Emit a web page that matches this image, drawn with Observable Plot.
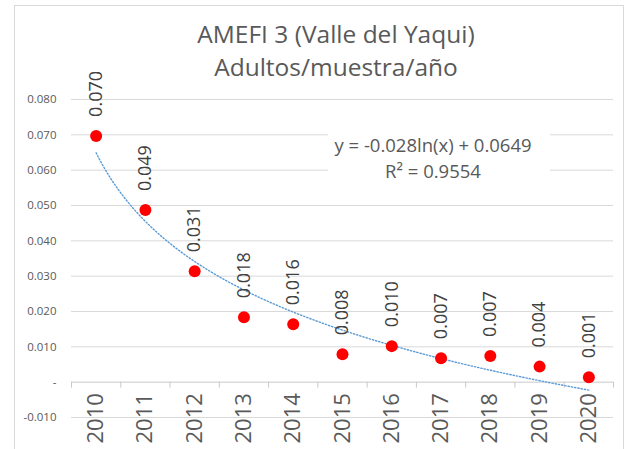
<!DOCTYPE html>
<html>
<head>
<meta charset="utf-8">
<script src="https://cdn.jsdelivr.net/npm/d3@7"></script>
<script src="https://cdn.jsdelivr.net/npm/@observablehq/plot@0.6"></script>
<style>
  html, body { margin: 0; padding: 0; background: #fff; }
  #wrap { position: relative; width: 629px; height: 449px; overflow: hidden; font-family: "Open Sans", sans-serif; }
  #border { position: absolute; left: 14px; top: 5px; width: 610px; height: 470px; border: 1px solid #D9D9D9; box-sizing: border-box; }
  #title { position: absolute; left: 36px; width: 600px; top: 17px; text-align: center; color: #595959; font-size: 24.5px; line-height: 33px; }
  #eq { position: absolute; left: 328px; width: 210px; padding-right: 12px; top: 132px; height: 52px; background: #fff; text-align: center; color: #595959; font-size: 18.5px; line-height: 26px; }
  #chart { position: absolute; left: 0; top: 0; }
</style>
</head>
<body>
<div id="wrap">
  <div id="border"></div>
  <div id="chart"></div>
  <div id="title">AMEFI 3 (Valle del Yaqui)<br>Adultos/muestra/año</div>
  <div id="eq">y = -0.028ln(x) + 0.0649<br>R² = 0.9554</div>
</div>
<script>
const years = ["2010","2011","2012","2013","2014","2015","2016","2017","2018","2019","2020"];
const values = [0.0697, 0.0487, 0.0314, 0.0184, 0.0164, 0.0079, 0.0102, 0.0068, 0.0074, 0.0044, 0.0014];
const yTicks = [-0.01, 0, 0.01, 0.02, 0.03, 0.04, 0.05, 0.06, 0.07, 0.08];
const trendCoef = {a: -0.028, b: 0.0649}; // y = a*ln(x) + b, from the chart's trendline label

const data = years.map((yr, i) => ({year: yr, idx: i + 1, value: values[i]}));
const boundaries = d3.range(0, years.length + 1).map(i => i + 0.5);
const trend = d3.range(1, years.length + 0.001, 0.05).map(x => ({x, y: trendCoef.a * Math.log(x) + trendCoef.b}));

const fmtY = v => v === 0 ? "-" : v.toFixed(3);

const chart = Plot.plot({
  width: 629,
  height: 449,
  marginTop: 99,
  marginBottom: 32,
  marginLeft: 71,
  marginRight: 16,
  style: {fontFamily: "Open Sans, sans-serif", fontSize: "11.5px", color: "#595959", background: "transparent"},
  x: {type: "linear", domain: [0.5, years.length + 0.5], axis: null},
  y: {domain: [-0.01, 0.08], ticks: yTicks, tickFormat: fmtY, tickSize: 0, tickPadding: 15, label: null},
  marks: [
    Plot.ruleY(yTicks.filter(v => v !== 0), {stroke: "#D9D9D9", strokeWidth: 1}),
    Plot.ruleY([0], {stroke: "#C9C9C9", strokeWidth: 1}),
    Plot.ruleX(boundaries, {x: d => d, y1: 0, y2: 0, insetBottom: -6, stroke: "#C9C9C9", strokeWidth: 1}),
    Plot.line(trend, {x: "x", y: "y", stroke: "#5B9BD5", strokeWidth: 1.4, strokeDasharray: "1.3 2", curve: "linear"}),
    Plot.dot(data, {x: "idx", y: "value", r: 6, fill: "#FF0000", stroke: "none"}),
    Plot.text(data, {x: "idx", y: "value", text: d => d.value.toFixed(3), rotate: -90, textAnchor: "start", dy: -19, fontSize: 18, fill: "#404040"}),
    Plot.text(data, {x: "idx", y: () => 0, text: "year", rotate: -90, textAnchor: "end", dy: 11, fontSize: 22, fill: "#595959"})
  ]
});
document.getElementById("chart").appendChild(chart);
</script>
</body>
</html>
